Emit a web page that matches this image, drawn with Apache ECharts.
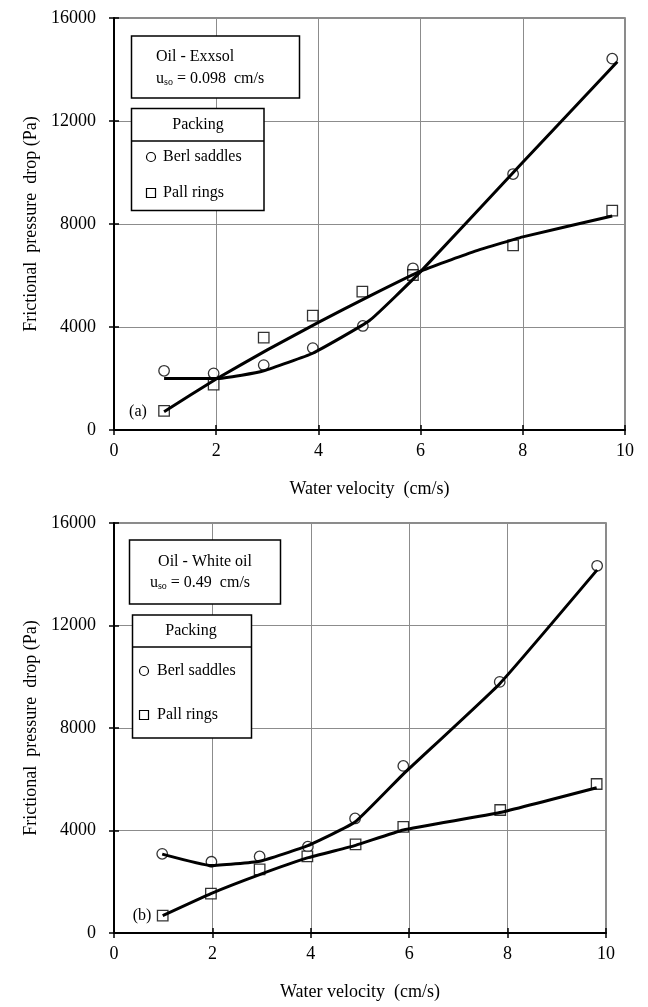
<!DOCTYPE html>
<html>
<head>
<meta charset="utf-8">
<script src="https://cdn.jsdelivr.net/npm/echarts@6/dist/echarts.min.js"></script>
<style>html,body{margin:0;padding:0;background:#fff}#c{width:648px;height:1007px}</style>
</head>
<body>
<div id="c"></div>
<script>
// ---- data ----
const xTicks = [0, 2, 4, 6, 8, 10];
const yTicks = [0, 4000, 8000, 12000, 16000];

// (a) Oil - Exxsol
const aBerlX = [0.98, 1.95, 2.93, 3.89, 4.87, 5.85, 7.81, 9.75];
const aBerlY = [2300, 2200, 2520, 3180, 4040, 6280, 9940, 14420];
const aPallX = [0.98, 1.95, 2.93, 3.89, 4.86, 5.85, 7.81, 9.75];
const aPallY = [740, 1760, 3590, 4440, 5370, 6020, 7170, 8520];
const aBerlFitX = [0.98, 2.0, 2.5, 2.93, 3.89, 5.0, 6.0, 8.0, 9.85];
const aBerlFitY = [2000, 2000, 2130, 2300, 2980, 4250, 6150, 10400, 14300];
const aPallFitX = [0.98, 2.0, 3.0, 4.0, 5.0, 6.0, 7.0, 8.0, 9.75];
const aPallFitY = [710, 1980, 3110, 4180, 5200, 6170, 6900, 7500, 8310];

// (b) Oil - White oil
const bBerlX = [0.98, 1.98, 2.96, 3.94, 4.90, 5.88, 7.84, 9.82];
const bBerlY = [3090, 2780, 2990, 3370, 4470, 6520, 9800, 14330];
const bPallX = [0.99, 1.97, 2.96, 3.93, 4.91, 5.88, 7.85, 9.81];
const bPallY = [680, 1540, 2480, 2990, 3460, 4140, 4800, 5815];
const bBerlFitX = [0.98, 1.98, 2.96, 3.94, 4.90, 5.88, 7.84, 9.82];
const bBerlFitY = [3080, 2630, 2800, 3410, 4330, 6200, 9730, 14170];
const bPallFitX = [0.99, 1.97, 2.96, 3.93, 4.91, 5.88, 7.84, 9.81];
const bPallFitY = [680, 1540, 2280, 2930, 3420, 4020, 4700, 5670];

const xTitle = 'Water velocity  (cm/s)';
const yTitle = 'Frictional  pressure  drop (Pa)';

// ---- chart ----
const FONT = "'Liberation Serif','Times New Roman',serif";
const pairs = (xs, ys) => xs.map((x, i) => [x, ys[i]]);

function mainX(g, nameGap) {
  return {
    gridIndex: g, type: 'value', min: xTicks[0], max: xTicks[xTicks.length - 1], interval: 2,
    position: 'bottom',
    name: xTitle, nameLocation: 'middle', nameGap: nameGap,
    nameTextStyle: { fontFamily: FONT, fontSize: 18, color: '#000' },
    axisLine: { show: true, onZero: false, lineStyle: { color: '#000', width: 2 } },
    axisTick: { show: true, inside: false, length: 5, lineStyle: { color: '#000', width: 1.5 } },
    axisLabel: { fontFamily: FONT, fontSize: 18, color: '#000', margin: 12, formatter: v => String(v) },
    splitLine: { show: true, lineStyle: { color: '#8c8c8c', width: 1 } }
  };
}
function innerX(g) {
  return {
    gridIndex: g, type: 'value', min: 0, max: 10, interval: 2, position: 'bottom',
    axisLine: { show: false }, axisLabel: { show: false }, splitLine: { show: false },
    axisTick: { show: true, inside: true, length: 5, lineStyle: { color: '#000', width: 1.5 } }
  };
}
function mainY(g) {
  return {
    gridIndex: g, type: 'value', min: yTicks[0], max: yTicks[yTicks.length - 1], interval: 4000, position: 'left',
    name: yTitle, nameLocation: 'middle', nameGap: 74, nameRotate: 90,
    nameTextStyle: { fontFamily: FONT, fontSize: 18, color: '#000' },
    axisLine: { show: true, onZero: false, lineStyle: { color: '#000', width: 2 } },
    axisTick: { show: true, inside: false, length: 5, lineStyle: { color: '#000', width: 1.5 } },
    axisLabel: { fontFamily: FONT, fontSize: 18, color: '#000', margin: 18, formatter: v => String(v) },
    splitLine: { show: true, lineStyle: { color: '#8c8c8c', width: 1 } }
  };
}
function innerY(g) {
  return {
    gridIndex: g, type: 'value', min: 0, max: 16000, interval: 4000, position: 'left',
    axisLine: { show: false }, axisLabel: { show: false }, splitLine: { show: false },
    axisTick: { show: true, inside: true, length: 5, lineStyle: { color: '#000', width: 1.5 } }
  };
}

function pts(xi, yi, xs, ys, sym) {
  return {
    type: 'scatter', xAxisIndex: xi, yAxisIndex: yi, data: pairs(xs, ys),
    symbol: sym, symbolSize: sym === 'circle' ? 10.5 : 10.5, z: 3,
    itemStyle: { color: '#fff', borderColor: '#000', borderWidth: 1.3 }
  };
}
function fit(xi, yi, xs, ys) {
  return {
    type: 'line', xAxisIndex: xi, yAxisIndex: yi, data: pairs(xs, ys),
    showSymbol: false, symbol: 'none', smooth: 0.12, z: 4,
    lineStyle: { color: '#000', width: 3 }
  };
}

const txt = (x, y, text, extra) => ({
  type: 'text', x: x, y: y, z: 100,
  style: Object.assign({ text: text, font: '16px ' + FONT, fill: '#000', verticalAlign: 'middle', align: 'left' }, extra || {})
});
const box = (x, y, w, h) => ({
  type: 'rect', z: 90, shape: { x: x, y: y, width: w, height: h },
  style: { fill: '#fff', stroke: '#000', lineWidth: 1.5 }
});
const hline = (x1, x2, y) => ({
  type: 'line', z: 95, shape: { x1: x1, y1: y, x2: x2, y2: y }, style: { stroke: '#000', lineWidth: 1.5 }
});
const circ = (cx, cy) => ({
  type: 'circle', z: 100, shape: { cx: cx, cy: cy, r: 4.5 }, style: { fill: '#fff', stroke: '#000', lineWidth: 1.2 }
});
const sq = (cx, cy) => ({
  type: 'rect', z: 100, shape: { x: cx - 4.5, y: cy - 4.5, width: 9, height: 9 }, style: { fill: '#fff', stroke: '#000', lineWidth: 1.2 }
});
const rich = { a: { fontFamily: FONT, fontSize: 16, fill: '#000' }, s: { fontFamily: FONT, fontSize: 10, fill: '#000', verticalAlign: 'bottom', padding: [6, 0, 0, 0] } };

const option = {
  animation: false,
  backgroundColor: '#fff',
  grid: [
    { left: 114, top: 18, width: 511, height: 412, show: true, borderColor: '#666', borderWidth: 1.5, containLabel: false },
    { left: 114, top: 523, width: 492, height: 410, show: true, borderColor: '#666', borderWidth: 1.5, containLabel: false }
  ],
  xAxis: [mainX(0, 50), innerX(0), mainX(1, 50), innerX(1)],
  yAxis: [mainY(0), innerY(0), mainY(1), innerY(1)],
  series: [
    pts(0, 0, aBerlX, aBerlY, 'circle'),
    pts(0, 0, aPallX, aPallY, 'rect'),
    fit(0, 0, aBerlFitX, aBerlFitY),
    fit(0, 0, aPallFitX, aPallFitY),
    pts(2, 2, bBerlX, bBerlY, 'circle'),
    pts(2, 2, bPallX, bPallY, 'rect'),
    fit(2, 2, bBerlFitX, bBerlFitY),
    fit(2, 2, bPallFitX, bPallFitY)
  ],
  graphic: [
    // (a) boxes
    box(131.5, 36, 168, 62),
    txt(156, 57, 'Oil - Exxsol'),
    {
      type: 'text', x: 156, y: 79, z: 100,
      style: { text: '{a|u}{s|so}{a| = 0.098  cm/s}', rich: rich, verticalAlign: 'middle', align: 'left' }
    },
    box(131.5, 108.5, 132.5, 102),
    hline(131.5, 264, 141),
    txt(198, 125, 'Packing', { align: 'center' }),
    circ(151, 157), txt(163, 157, 'Berl saddles'),
    sq(151, 193), txt(163, 193, 'Pall rings'),
    txt(138, 412, '(a)', { align: 'center' }),
    // (b) boxes
    box(129.5, 540, 151, 64),
    txt(205, 562, 'Oil - White oil', { align: 'center' }),
    {
      type: 'text', x: 200, y: 583, z: 100,
      style: { text: '{a|u}{s|so}{a| = 0.49  cm/s}', rich: rich, verticalAlign: 'middle', align: 'center' }
    },
    box(132.5, 615, 119, 123),
    hline(132.5, 251.5, 647),
    txt(191, 631, 'Packing', { align: 'center' }),
    circ(144, 671), txt(157, 671, 'Berl saddles'),
    sq(144, 715), txt(157, 715, 'Pall rings'),
    txt(142, 916, '(b)', { align: 'center' })
  ]
};
const chart = echarts.init(document.getElementById('c'), null, { renderer: 'canvas' });
chart.setOption(option);
</script>
</body>
</html>
